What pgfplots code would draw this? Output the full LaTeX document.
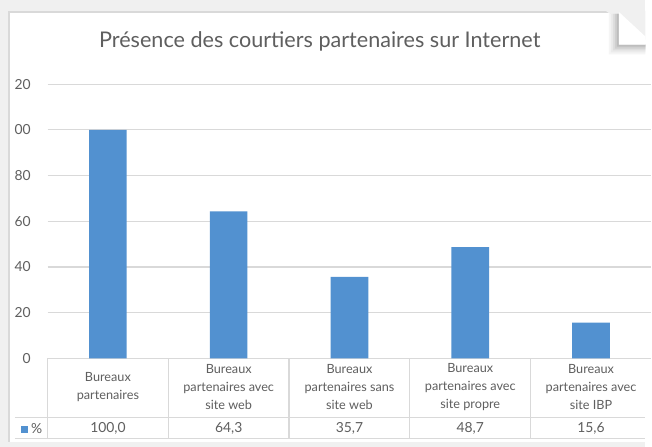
\documentclass[border=0pt]{standalone}
\usepackage{pgfplots}
\pgfplotsset{compat=1.18}
\usepackage{fontspec}
\setmainfont{Lato}
\definecolor{barblue}{HTML}{5291D0}
\definecolor{txt}{HTML}{5F5F5F}
\definecolor{gridc}{HTML}{D9D9D9}
\begin{document}
\begin{tikzpicture}
\begin{scope}[x=0.5pt,y=-0.5pt]
\useasboundingbox (0,0) rectangle (652,451);
\fill[white] (0,0) rectangle (652,451);
\fill[gray!12] (0,0) rectangle (652,11);
\fill[gray!12] (0,0) rectangle (8,451);
\fill[gray!12] (0,446) rectangle (652,451);
\draw[gray!30, line width=1pt] (9,446) -- (9,12) -- (652,12);
\node[text=txt, font=\fontsize{10.9}{13}\selectfont] at (323,42) {Présence des courtiers partenaires sur Internet};
\end{scope}
\begin{axis}[
  at={(24pt,-181pt)}, anchor=south west,
  scale only axis, width=305pt, height=138.5pt,
  xmin=-0.5, xmax=4.5, ymin=0, ymax=120,
  ytick={0,20,40,60,80,100,120},
  yticklabels={0,20,40,60,80,00,20},
  xtick=\empty,
  ymajorgrids, grid style={gridc, line width=0.6pt},
  axis line style={draw=none},
  major tick length=0pt,
  yticklabel style={text=txt, font=\fontsize{7}{8}\selectfont, xshift=-5pt},
  ybar, bar width=19pt,
  clip=false,
]
\addplot[fill=barblue, draw=none] coordinates {(0,100) (1,64.3) (2,35.7) (3,48.7) (4,15.6)};
\end{axis}
\begin{scope}[x=0.5pt,y=-0.5pt]
\draw[gridc, line width=0.6pt] (15,422) -- (652,422);
\draw[gridc, line width=0.6pt] (15,443) -- (652,443);
\foreach \xx in {48,170,292,414,536} \draw[gridc, line width=0.6pt] (\xx,362) -- (\xx,443);
\begin{scope}[every node/.style={text=txt, font=\fontsize{6.4}{9}\selectfont, align=center}]
\node at (109,391) {Bureaux\\partenaires};
\node at (231,391) {Bureaux\\partenaires avec\\site web};
\node at (353,391) {Bureaux\\partenaires sans\\site web};
\node at (475,391) {Bureaux\\partenaires avec\\site propre};
\node at (597,391) {Bureaux\\partenaires avec\\site IBP};
\end{scope}
\begin{scope}[every node/.style={text=txt, font=\fontsize{7}{8}\selectfont}]
\node at (109,433) {100,0};
\node at (231,433) {64,3};
\node at (353,433) {35,7};
\node at (475,433) {48,7};
\node at (597,433) {15,6};
\node[anchor=west, inner sep=0pt] at (31,433) {\%};
\end{scope}
\fill[barblue] (21,430) rectangle (28,437);
% page fold
\fill[gray!12] (612,11) -- (652,11) -- (652,40) -- cycle;
\foreach \i/\c in {10/8,8/16,6/26,4/38,2/52} {
  \fill[gray!\c] (625-\i,14) -- (625,14) -- (625,45) -- (652,45) -- (652,45+\i) -- (625-\i,45+\i) -- cycle;
}
\fill[white] (625,12) -- (625,45) -- (652,45) -- (652,37) -- cycle;
\end{scope}
\end{tikzpicture}
\end{document}
